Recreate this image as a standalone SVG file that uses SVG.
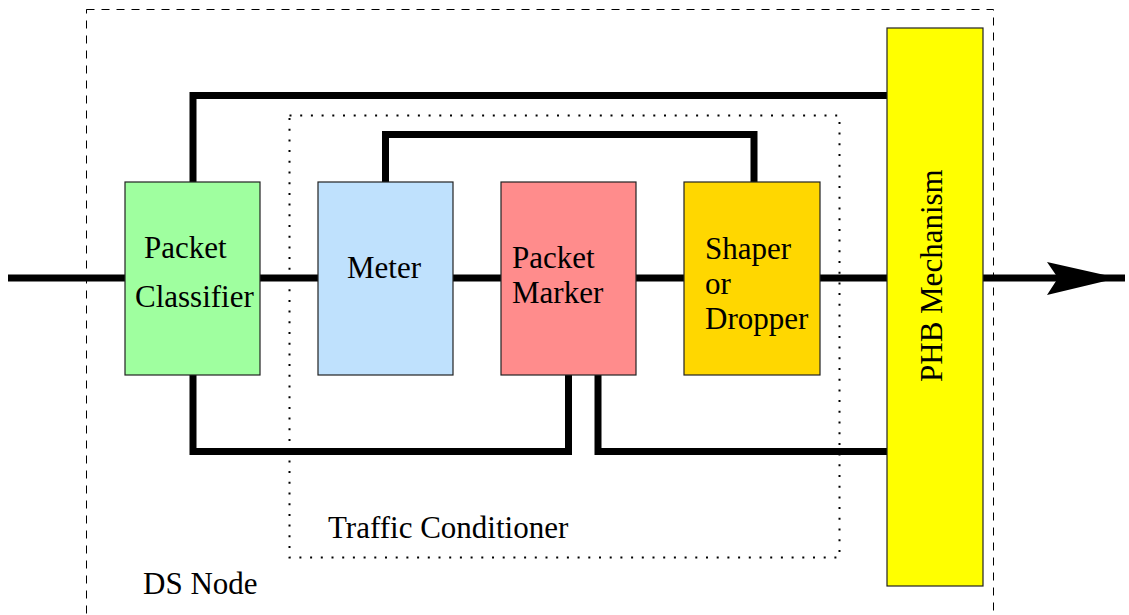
<svg xmlns="http://www.w3.org/2000/svg" width="1129" height="615" viewBox="0 0 1129 615">
  <style>
    .box { stroke: #222; stroke-width: 1.2; }
    .wire { fill: none; stroke: #000; stroke-width: 7; stroke-linejoin: miter; stroke-linecap: butt; }
    .lbl { font-family: "Liberation Serif", "Times New Roman", serif; font-size: 31px; fill: #000; }
  </style>

  <!-- DS node boundary -->
  <rect x="86.5" y="9.5" width="907" height="640" fill="none" stroke="#000" stroke-width="1" stroke-dasharray="8 7"/>
  <!-- traffic conditioner boundary -->
  <rect x="289.5" y="115.5" width="550" height="442" fill="none" stroke="#000" stroke-width="2" stroke-dasharray="2 8.7"/>

  <g id="connectors">
    <!-- main packet path -->
    <polyline class="wire" points="8,278 125,278"/>
    <polyline class="wire" points="260,278 318,278"/>
    <polyline class="wire" points="453,278 501,278"/>
    <polyline class="wire" points="636,278 684,278"/>
    <polyline class="wire" points="820,278 887,278"/>
    <polyline class="wire" points="983,278 1125,278"/>
    <polygon points="1047,262 1118,278 1047,295 1058,278" fill="#000"/>
    <!-- classifier to PHB (top) -->
    <polyline class="wire" points="193,182 193,95.5 887,95.5"/>
    <!-- meter to shaper -->
    <polyline class="wire" points="385.5,182 385.5,134.5 754,134.5 754,182"/>
    <!-- classifier to marker (bottom) -->
    <polyline class="wire" points="193,375 193,451.5 568.5,451.5 568.5,375"/>
    <!-- marker to PHB (bottom) -->
    <polyline class="wire" points="598,375 598,451.5 887,451.5"/>
  </g>

  <g id="classifier">
    <rect class="box" x="125" y="182" width="135" height="193" fill="#9fff9f"/>
    <text class="lbl" x="144" y="258">Packet</text>
    <text class="lbl" x="135" y="307">Classifier</text>
  </g>

  <g id="meter">
    <rect class="box" x="318" y="182" width="135" height="193" fill="#bfe1fd"/>
    <text class="lbl" x="347" y="278">Meter</text>
  </g>

  <g id="marker">
    <rect class="box" x="501" y="182" width="135" height="193" fill="#ff8c8c"/>
    <text class="lbl" x="512" y="268">Packet</text>
    <text class="lbl" x="512" y="303">Marker</text>
  </g>

  <g id="shaper">
    <rect class="box" x="684" y="182" width="136" height="193" fill="#ffd700"/>
    <text class="lbl" x="705" y="259">Shaper</text>
    <text class="lbl" x="705" y="294">or</text>
    <text class="lbl" x="705" y="329">Dropper</text>
  </g>

  <g id="phb">
    <rect class="box" x="887" y="28" width="96" height="558" fill="#ffff00"/>
    <text class="lbl" transform="translate(942,382) rotate(-90)">PHB Mechanism</text>
  </g>

  <g id="labels">
    <text class="lbl" x="328" y="538">Traffic Conditioner</text>
    <text class="lbl" x="143" y="594">DS Node</text>
  </g>
</svg>
